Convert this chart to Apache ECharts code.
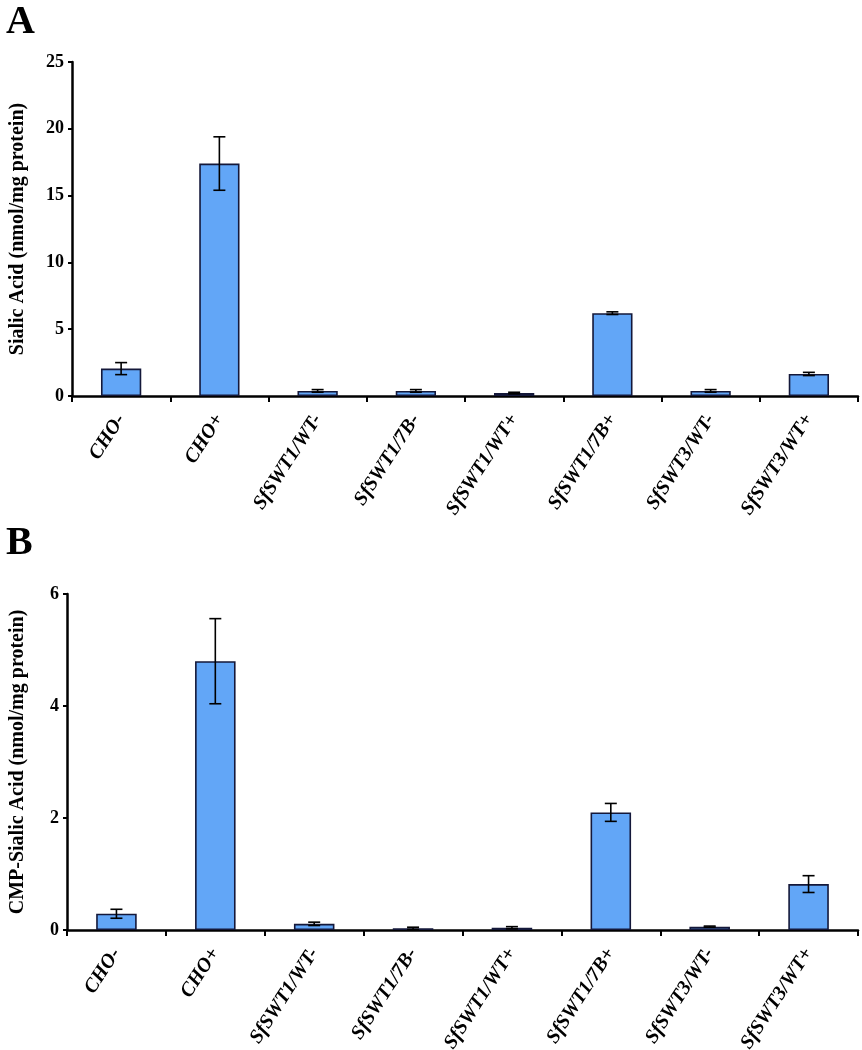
<!DOCTYPE html>
<html>
<head>
<meta charset="utf-8">
<script src="https://cdn.jsdelivr.net/npm/echarts@6/dist/echarts.min.js"></script>
<style>
html,body{margin:0;padding:0;background:#fff;}
#chart{width:862px;height:1050px;}
</style>
</head>
<body>
<div id="chart"></div>
<script>
var categories = ['CHO-', 'CHO+', 'SfSWT1/WT-', 'SfSWT1/7B-', 'SfSWT1/WT+', 'SfSWT1/7B+', 'SfSWT3/WT-', 'SfSWT3/WT+'];
var sialicValues = [2.05, 17.4, 0.38, 0.38, 0.22, 6.2, 0.38, 1.65];
var sialicErrors = [0.45, 2.0, 0.1, 0.1, 0.06, 0.1, 0.1, 0.12];
var cmpValues = [0.29, 4.8, 0.11, 0.03, 0.04, 2.1, 0.06, 0.82];
var cmpErrors = [0.08, 0.76, 0.03, 0.02, 0.02, 0.16, 0.01, 0.15];
var sialicTicks = [0, 5, 10, 15, 20, 25];
var cmpTicks = [0, 2, 4, 6];

var FONT = '"Liberation Serif", "Times New Roman", serif';
var BAR_FILL = '#62a6f7';
var BAR_EDGE = '#14183a';

function errorData(vals, errs) {
  return vals.map(function (v, i) { return [i, v, errs[i]]; });
}

function renderError(params, api) {
  var idx = api.value(0), v = api.value(1), e = api.value(2);
  var top = api.coord([idx, v + e]);
  var bot = api.coord([idx, v - e]);
  var hw = 6;
  var style = { stroke: '#000', lineWidth: 1.6 };
  return {
    type: 'group',
    children: [
      { type: 'line', shape: { x1: top[0], y1: top[1], x2: bot[0], y2: bot[1] }, style: style },
      { type: 'line', shape: { x1: top[0] - hw, y1: top[1], x2: top[0] + hw, y2: top[1] }, style: style },
      { type: 'line', shape: { x1: bot[0] - hw, y1: bot[1], x2: bot[0] + hw, y2: bot[1] }, style: style }
    ]
  };
}

function xAxisDef(gridIndex) {
  return {
    type: 'category', gridIndex: gridIndex, data: categories,
    axisLine: { lineStyle: { color: '#000', width: 2.5 } },
    axisTick: { show: true, length: 6, lineStyle: { color: '#000', width: 2 } },
    axisLabel: {
      rotate: 57, margin: 20, interval: 0,
      fontFamily: FONT, fontWeight: 'bold', fontStyle: 'italic', fontSize: 20, color: '#000'
    }
  };
}

function yAxisDef(gridIndex, ticks, name, gap) {
  return {
    type: 'value', gridIndex: gridIndex,
    min: ticks[0], max: ticks[ticks.length - 1], interval: ticks[1] - ticks[0],
    name: name, nameLocation: 'middle', nameGap: gap,
    nameTextStyle: { fontFamily: FONT, fontWeight: 'bold', fontSize: 20, color: '#000' },
    axisLine: { show: true, lineStyle: { color: '#000', width: 2.5 } },
    axisTick: { show: true, length: 4, lineStyle: { color: '#000', width: 2 } },
    axisLabel: { fontFamily: FONT, fontWeight: 'bold', fontSize: 18, color: '#000', margin: 8 },
    splitLine: { show: false }
  };
}

var chart = echarts.init(document.getElementById('chart'), null, { renderer: 'canvas' });
chart.setOption({
  animation: false,
  backgroundColor: '#fff',
  title: [
    { text: 'A', left: 1, top: -2, textStyle: { fontFamily: FONT, fontWeight: 'bold', fontSize: 40, color: '#000' } },
    { text: 'B', left: 1, top: 519, textStyle: { fontFamily: FONT, fontWeight: 'bold', fontSize: 40, color: '#000' } }
  ],
  grid: [
    { left: 72, right: 4, top: 62, height: 334, containLabel: false, outerBoundsMode: 'none' },
    { left: 67, right: 4, top: 594, height: 336, containLabel: false, outerBoundsMode: 'none' }
  ],
  xAxis: [xAxisDef(0), xAxisDef(1)],
  yAxis: [
    yAxisDef(0, sialicTicks, 'Sialic Acid (nmol/mg protein)', 44),
    yAxisDef(1, cmpTicks, 'CMP-Sialic Acid (nmol/mg protein)', 39)
  ],
  series: [
    { type: 'bar', xAxisIndex: 0, yAxisIndex: 0, data: sialicValues, barWidth: '41%',
      itemStyle: { color: BAR_FILL, borderColor: BAR_EDGE, borderWidth: 1.6 } },
    { type: 'custom', xAxisIndex: 0, yAxisIndex: 0, data: errorData(sialicValues, sialicErrors),
      renderItem: renderError, z: 10 },
    { type: 'bar', xAxisIndex: 1, yAxisIndex: 1, data: cmpValues, barWidth: '41%',
      itemStyle: { color: BAR_FILL, borderColor: BAR_EDGE, borderWidth: 1.6 } },
    { type: 'custom', xAxisIndex: 1, yAxisIndex: 1, data: errorData(cmpValues, cmpErrors),
      renderItem: renderError, z: 10 }
  ]
});
</script>
</body>
</html>
